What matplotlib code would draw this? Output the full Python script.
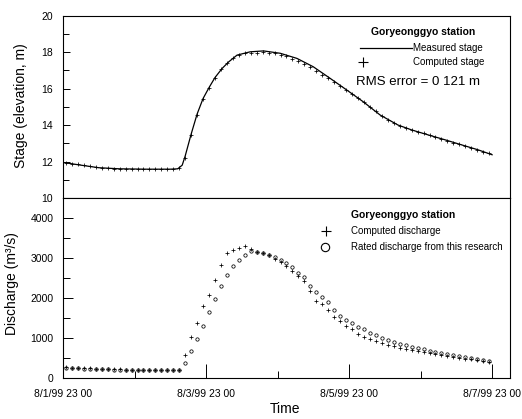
import numpy as np
import matplotlib
matplotlib.use("Agg")
import matplotlib.pyplot as plt
from matplotlib.ticker import MultipleLocator, FixedLocator

plt.rcParams['font.family'] = ['Liberation Sans', 'DejaVu Sans']

# hours after 8/1/99 23:00
stage_hours = [0.8, 6, 12, 19, 28, 36, 38.5, 40, 41, 43, 45, 47, 49, 51, 53.4, 55.6,
               58.4, 62.8, 67.3, 72.9, 78.5, 84, 89.7, 95.2, 100.7, 106.4, 112.4,
               117, 122.5, 128.2, 133.8, 139.3, 144]
measured_stage = [11.93, 11.8, 11.66, 11.6, 11.58, 11.58, 11.6, 11.8, 12.3, 13.5, 14.6,
                  15.45, 16.05, 16.6, 17.1, 17.46, 17.83, 18.01, 18.06, 17.93, 17.65,
                  17.19, 16.55, 15.92, 15.28, 14.55, 14.0, 13.73, 13.46, 13.19, 12.91,
                  12.64, 12.37]

# computed points every 2 h (odd hours 1..143)
hours = np.arange(1, 145, 2)
computed_stage = [
    11.92, 11.88, 11.84, 11.79, 11.74, 11.68, 11.65, 11.63, 11.61, 11.60,
    11.60, 11.60, 11.60, 11.60, 11.60, 11.60, 11.60, 11.60, 11.60, 11.62,
    12.20, 13.45, 14.55, 15.40, 16.05, 16.60, 17.05, 17.40, 17.65, 17.82, 17.92, 17.95,
    17.97, 17.98, 17.97, 17.93, 17.86, 17.76, 17.64, 17.50, 17.34, 17.16,
    16.96, 16.75, 16.55, 16.35, 16.13, 15.92, 15.70, 15.48, 15.25, 15.01,
    14.76, 14.52, 14.30, 14.11, 13.96, 13.85, 13.74, 13.64, 13.54, 13.44,
    13.34, 13.24, 13.14, 13.04, 12.94, 12.84, 12.74, 12.64, 12.54, 12.44]

computed_q = [
    270, 265, 258, 250, 245, 240, 235, 230, 225, 222,
    220, 218, 216, 214, 212, 210, 210, 208, 208, 215,
    580, 1025, 1390, 1800, 2090, 2450, 2830, 3125, 3210, 3265, 3290, 3240,
    3160, 3120, 3070, 2990, 2910, 2800, 2683, 2550, 2417, 2167,
    1940, 1850, 1700, 1530, 1420, 1300, 1220, 1100, 1040, 990,
    920, 870, 830, 800, 760, 730, 700, 680, 650, 630,
    600, 580, 560, 540, 510, 490, 470, 450, 420, 400]

rated_q = [
    255, 250, 248, 242, 238, 232, 228, 224, 220, 218,
    215, 213, 211, 210, 208, 207, 206, 205, 205, 205,
    390, 690, 975, 1308, 1667, 1983, 2300, 2583, 2800, 2960, 3067, 3167,
    3150, 3125, 3090, 3030, 2950, 2880, 2770, 2640, 2520, 2300,
    2150, 2020, 1900, 1700, 1560, 1450, 1370, 1290, 1220, 1140,
    1070, 1000, 950, 900, 860, 820, 790, 760, 730, 690,
    660, 630, 600, 575, 550, 525, 500, 480, 455, 430]

xtick_pos = [0, 48, 96, 144]
xtick_labels = ['8/1/99 23 00', '8/3/99 23 00', '8/5/99 23 00', '8/7/99 23 00']

fig = plt.figure(figsize=(5.22, 4.19), dpi=100)
ax1 = fig.add_axes([0.1207, 0.5274, 0.8563, 0.4356])
ax2 = fig.add_axes([0.1207, 0.0971, 0.8563, 0.4303])

for ax in (ax1, ax2):
    for s in ax.spines.values():
        s.set_linewidth(0.8)
    ax.set_xlim(0, 150)

# --- stage panel
ax1.plot(stage_hours, measured_stage, color='black', lw=0.9)
ax1.plot(hours, computed_stage, ls='none', marker='+', ms=3.0, mew=0.55, color='black')
ax1.set_ylim(10, 20)
ax1.yaxis.set_major_locator(MultipleLocator(2))
ax1.yaxis.set_minor_locator(MultipleLocator(1))
ax1.tick_params(axis='y', which='both', direction='in', right=False, labelsize=7.5, pad=7)
ax1.tick_params(axis='y', which='major', length=5, width=0.7)
ax1.tick_params(axis='y', which='minor', length=4, width=0.7)
ax1.tick_params(axis='x', which='both', bottom=False, labelbottom=False)
ax1.set_ylabel('Stage (elevation, m)', fontsize=10)
ax1.yaxis.set_label_coords(-0.078, 0.507)

ax1.text(0.805, 0.91, 'Goryeonggyo station', transform=ax1.transAxes, ha='center',
         va='center', fontsize=7.5, fontweight='bold')
ax1.plot([0.664, 0.781], [0.822, 0.822], transform=ax1.transAxes, color='black', lw=0.9)
ax1.text(0.783, 0.822, 'Measured stage', transform=ax1.transAxes, ha='left',
         va='center', fontsize=7)
ax1.plot([0.671], [0.745], transform=ax1.transAxes, marker='+', ms=7, mew=0.8,
         color='black', ls='none')
ax1.text(0.783, 0.745, 'Computed stage', transform=ax1.transAxes, ha='left',
         va='center', fontsize=7)
ax1.text(0.795, 0.636, 'RMS error = 0 121 m', transform=ax1.transAxes, ha='center',
         va='center', fontsize=9.5)

# --- discharge panel
ax2.plot(hours, computed_q, ls='none', marker='+', ms=3.3, mew=0.55, color='black')
ax2.plot(hours, rated_q, ls='none', marker='o', ms=2.4, mew=0.55, mfc='none',
         color='black')
ax2.set_ylim(0, 4500)
ax2.yaxis.set_major_locator(FixedLocator([0, 1000, 2000, 3000, 4000]))
ax2.yaxis.set_minor_locator(FixedLocator([500, 1500, 2500, 3500]))
ax2.tick_params(axis='y', which='both', direction='in', right=False, labelsize=7.5, pad=7)
ax2.tick_params(axis='y', which='major', length=7, width=0.7)
ax2.tick_params(axis='y', which='minor', length=5, width=0.7)
ax2.set_xticks(xtick_pos)
ax2.set_xticklabels(xtick_labels)
ax2.xaxis.set_minor_locator(FixedLocator([24, 72, 120]))
ax2.tick_params(axis='x', which='both', direction='in', top=False, labelsize=7.5, pad=8)
ax2.tick_params(axis='x', which='major', length=10, width=0.7)
ax2.tick_params(axis='x', which='minor', length=5, width=0.7)
ax2.set_ylabel('Discharge (m\u00b3/s)', fontsize=10)
ax2.yaxis.set_label_coords(-0.098, 0.523)
ax2.set_xlabel('Time', fontsize=10)
ax2.xaxis.set_label_coords(0.497, -0.13)

ax2.text(0.761, 0.906, 'Goryeonggyo station', transform=ax2.transAxes, ha='center',
         va='center', fontsize=7.5, fontweight='bold')
ax2.plot([0.588], [0.817], transform=ax2.transAxes, marker='+', ms=7, mew=0.8,
         color='black', ls='none')
ax2.text(0.644, 0.817, 'Computed discharge', transform=ax2.transAxes, ha='left',
         va='center', fontsize=7)
ax2.plot([0.586], [0.728], transform=ax2.transAxes, marker='o', ms=6, mew=0.8,
         mfc='none', color='black', ls='none')
ax2.text(0.644, 0.728, 'Rated discharge from this research', transform=ax2.transAxes,
         ha='left', va='center', fontsize=7)

fig.savefig('out.png', dpi=100)
